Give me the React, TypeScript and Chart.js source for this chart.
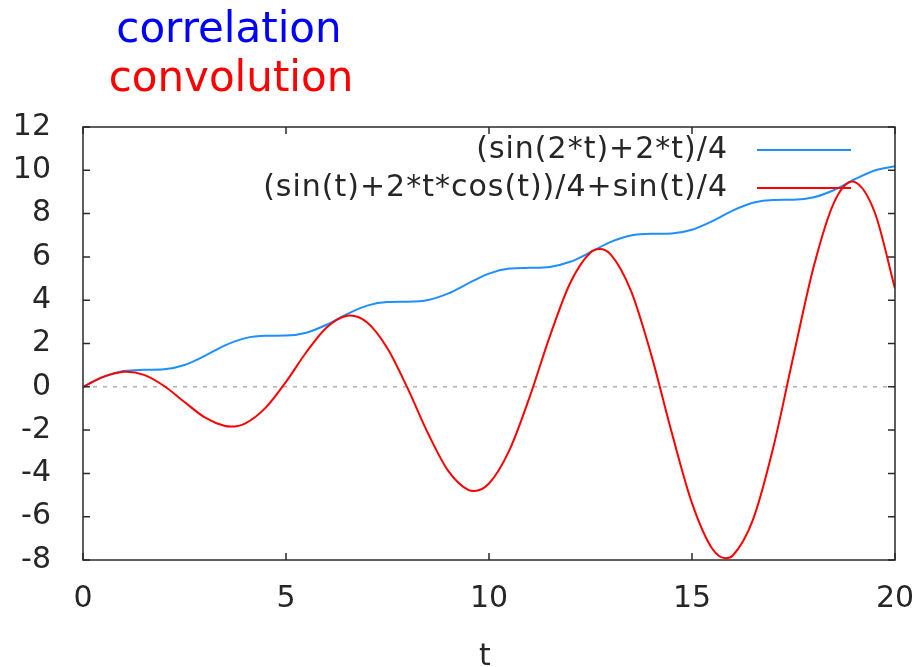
import React, { useEffect, useRef } from "react";
import { Chart, registerables } from "chart.js";

Chart.register(...registerables);

// ---- data ----
const titleLines = ["correlation", "convolution"];
const titleColors = ["#0000ff", "#ff0000"];
const seriesLabels = ["(sin(2*t)+2*t)/4", "(sin(t)+2*t*cos(t))/4+sin(t)/4"];
const seriesColors = ["#1e8fff", "#ff0000"];
const xAxisLabel = "t";

const correlationT = [
  0, 0.5, 1, 1.5, 2, 2.5, 3, 3.5, 4, 4.5, 5, 5.5, 6, 6.5, 7, 7.5, 8, 8.5, 9, 9.5,
  10, 10.5, 11, 11.5, 12, 12.5, 13, 13.5, 14, 14.5, 15, 15.5, 16, 16.5, 17, 17.5,
  18, 18.5, 19, 19.5, 20,
];
const correlationValues = [
  0, 0.4604, 0.7273, 0.7853, 0.8108, 1.0103, 1.4301, 1.9142, 2.2473, 2.353,
  2.364, 2.5, 2.8659, 3.3551, 3.7477, 3.9126, 3.928, 4.0097, 4.3123, 4.7875,
  5.2282, 5.4592, 5.4978, 5.5385, 5.7736, 6.2169, 6.6907, 6.9891, 7.0677, 7.0841,
  7.253, 7.649, 8.1379, 8.5, 8.6323, 8.643, 8.752, 9.0891, 9.5741, 9.991, 10.1863,
];

const convolutionT = [
  0, 0.5, 1, 1.077, 1.5, 2, 2.5, 3, 3.5, 3.643, 4, 4.5, 5, 5.5, 6, 6.5, 6.577, 7,
  7.5, 8, 8.5, 9, 9.5, 9.63, 10, 10.5, 11, 11.5, 12, 12.5, 12.722, 13, 13.5, 14,
  14.5, 15, 15.5, 15.834, 16, 16.5, 17, 17.5, 18, 18.5, 18.955, 19, 19.5, 20,
];
const convolutionValues = [
  0, 0.4591, 0.6909, 0.6956, 0.5518, 0.0385, -0.7022, -1.4144, -1.8142, -1.8376,
  -1.6857, -0.963, 0.2297, 1.5961, 2.7408, 3.2815, 3.2922, 2.9672, 1.7692, -0.0873,
  -2.1593, -3.894, -4.7741, -4.8158, -4.4674, -2.9364, -0.4757, 2.3413, 4.7948,
  6.2031, 6.3615, 6.1085, 4.4176, 1.4524, -2.1057, -5.3725, -7.4798, -7.9174,
  -7.8052, -6.1507, -2.8196, 1.4323, 5.5674, 8.5193, 9.4775, 9.4676, 8.062, 4.5373,
];

const xTicks = [0, 5, 10, 15, 20];
const yTicks = [-8, -6, -4, -2, 0, 2, 4, 6, 8, 10, 12];

const FONT = "'DejaVu Sans', 'Liberation Sans', sans-serif";
const TEXT_COLOR = "#262626";
const FRAME_COLOR = "#2a2a2a";

const gnuplotDecor = {
  id: "gnuplotDecor",
  beforeDatasetsDraw(chart: any) {
    const { ctx, chartArea } = chart;
    const y0 = chart.scales.y.getPixelForValue(0);
    ctx.save();
    ctx.strokeStyle = "#b0b0b0";
    ctx.lineWidth = 1.6;
    ctx.setLineDash([4, 6]);
    ctx.beginPath();
    ctx.moveTo(chartArea.left, y0);
    ctx.lineTo(chartArea.right, y0);
    ctx.stroke();
    ctx.restore();
  },
  afterDatasetsDraw(chart: any) {
    const { ctx, chartArea } = chart;
    const { left, right, top, bottom } = chartArea;
    const xs = chart.scales.x;
    const ys = chart.scales.y;
    ctx.save();
    // frame
    ctx.strokeStyle = FRAME_COLOR;
    ctx.lineWidth = 1.5;
    ctx.setLineDash([]);
    ctx.strokeRect(left, top, right - left, bottom - top);
    // inward ticks on all four sides
    const tl = 7;
    ctx.beginPath();
    xTicks.forEach((v) => {
      const px = xs.getPixelForValue(v);
      ctx.moveTo(px, bottom);
      ctx.lineTo(px, bottom - tl);
      ctx.moveTo(px, top);
      ctx.lineTo(px, top + tl);
    });
    yTicks.forEach((v) => {
      const py = ys.getPixelForValue(v);
      ctx.moveTo(left, py);
      ctx.lineTo(left + tl, py);
      ctx.moveTo(right, py);
      ctx.lineTo(right - tl, py);
    });
    ctx.stroke();

    // legend (top right, text right-aligned, sample line to the right)
    ctx.font = `30px ${FONT}`;
    (ctx as any).letterSpacing = "1px";
    ctx.textAlign = "right";
    ctx.textBaseline = "middle";
    chart.data.datasets.forEach((ds: any, i: number) => {
      const rowY = top + 23 + i * 38;
      ctx.fillStyle = TEXT_COLOR;
      ctx.fillText(ds.label, right - 167, rowY);
      ctx.strokeStyle = ds.borderColor;
      ctx.lineWidth = 2;
      ctx.beginPath();
      ctx.moveTo(right - 138, rowY);
      ctx.lineTo(right - 44, rowY);
      ctx.stroke();
    });
    (ctx as any).letterSpacing = "0px";

    // x axis label
    ctx.font = `30px ${FONT}`;
    ctx.fillStyle = TEXT_COLOR;
    ctx.textAlign = "center";
    ctx.textBaseline = "alphabetic";
    ctx.fillText(xAxisLabel, 485, 665);

    // titles
    ctx.font = `42px ${FONT}`;
    ctx.textAlign = "center";
    ctx.textBaseline = "alphabetic";
    ctx.fillStyle = titleColors[0];
    ctx.fillText(titleLines[0], 229, 42);
    ctx.fillStyle = titleColors[1];
    ctx.fillText(titleLines[1], 231, 91);
    ctx.restore();
  },
};

export default function App() {
  const canvasRef = useRef<HTMLCanvasElement | null>(null);

  useEffect(() => {
    document.body.style.margin = "0";
    const canvas = canvasRef.current;
    if (!canvas) return;
    const chart = new Chart(canvas, {
      type: "line",
      data: {
        datasets: [
          {
            label: seriesLabels[0],
            data: correlationT.map((t, i) => ({ x: t, y: correlationValues[i] })),
            borderColor: seriesColors[0],
            backgroundColor: seriesColors[0],
            borderWidth: 2,
            pointRadius: 0,
            cubicInterpolationMode: "monotone",
            order: 1,
          },
          {
            label: seriesLabels[1],
            data: convolutionT.map((t, i) => ({ x: t, y: convolutionValues[i] })),
            borderColor: seriesColors[1],
            backgroundColor: seriesColors[1],
            borderWidth: 2,
            pointRadius: 0,
            cubicInterpolationMode: "monotone",
            order: 0,
          },
        ],
      },
      options: {
        responsive: false,
        animation: false,
        events: [],
        layout: { padding: { top: 127, right: 21, left: 0, bottom: 0 } },
        plugins: {
          legend: { display: false },
          tooltip: { enabled: false },
          title: { display: false },
        },
        scales: {
          x: {
            type: "linear",
            min: 0,
            max: 20,
            afterBuildTicks: (scale: any) => {
              scale.ticks = xTicks.map((v) => ({ value: v }));
            },
            afterFit: (scale: any) => {
              scale.height = 107;
              scale.paddingLeft = 0;
              scale.paddingRight = 0;
            },
            grid: { display: false, drawTicks: false },
            border: { display: false },
            ticks: {
              padding: 21,
              color: TEXT_COLOR,
              font: { family: FONT, size: 30 },
              maxRotation: 0,
              autoSkip: false,
            },
            title: { display: false },
          },
          y: {
            type: "linear",
            min: -8,
            max: 12,
            afterBuildTicks: (scale: any) => {
              scale.ticks = yTicks.map((v) => ({ value: v }));
            },
            afterFit: (scale: any) => {
              scale.width = 83;
              scale.paddingTop = 0;
              scale.paddingBottom = 0;
            },
            grid: { display: false, drawTicks: false },
            border: { display: false },
            ticks: {
              padding: 32,
              color: TEXT_COLOR,
              font: { family: FONT, size: 30 },
              autoSkip: false,
            },
          },
        },
      },
      plugins: [gnuplotDecor],
    });
    return () => chart.destroy();
  }, []);

  return (
    <div style={{ width: 916, height: 667 }}>
      <canvas ref={canvasRef} width={916} height={667} style={{ display: "block" }} />
    </div>
  );
}
